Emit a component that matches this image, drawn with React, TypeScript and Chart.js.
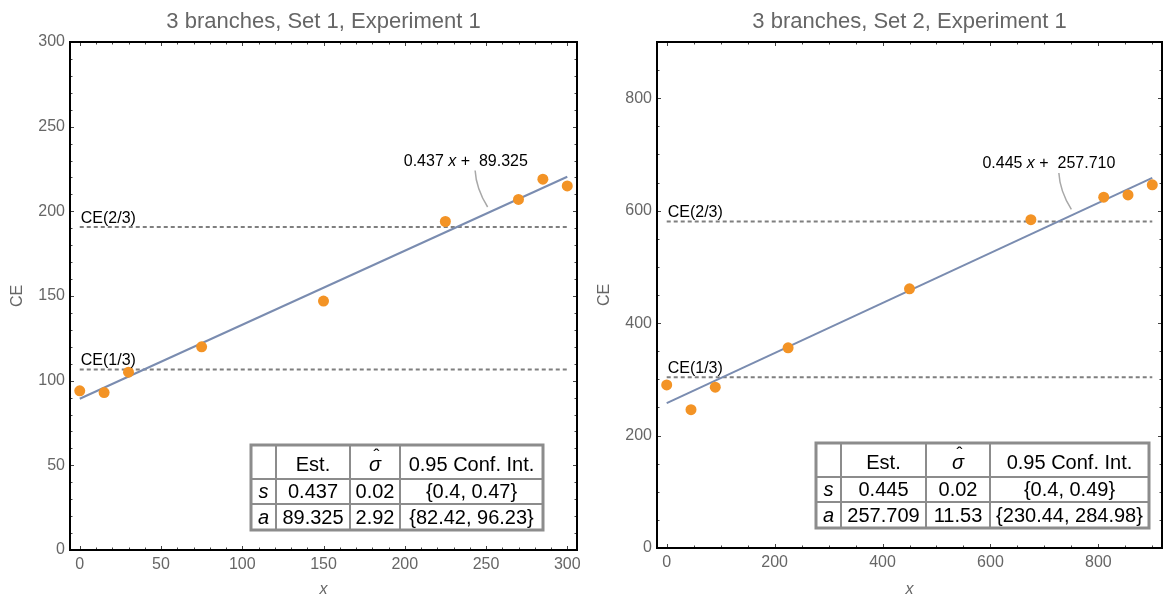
import React, { useEffect, useRef } from "react";
import { Chart, registerables } from "chart.js";

Chart.register(...registerables);

// Set 1 observations
const set1X = [0, 15, 30, 75, 150, 225, 270, 285, 300];
const set1CE = [94, 93, 105, 120, 147, 194, 207, 219, 215];

// Set 2 observations
const set2X = [0, 45, 90, 225, 450, 675, 810, 855, 900];
const set2CE = [290, 246, 286, 356, 461, 584, 624, 628, 646];

// Fitted lines: [slope, intercept]
const set1Fit = [0.437, 89.325];
const set2Fit = [0.445, 257.71];

// Certainty-equivalent reference levels: [CE(1/3), CE(2/3)]
const set1Levels = [106.6, 190.8];
const set2Levels = [303.6, 580.9];
const levelNames = ["CE(1/3)", "CE(2/3)"];

// Labelled ticks
const set1XTicks = [0, 50, 100, 150, 200, 250, 300];
const set1YTicks = [0, 50, 100, 150, 200, 250, 300];
const set2XTicks = [0, 200, 400, 600, 800];
const set2YTicks = [0, 200, 400, 600, 800];

// Parameter tables ("σ" gets a hat drawn above it)
const tableHeader = ["", "Est.", "σ", "0.95 Conf. Int."];
const set1Table = [
  ["s", "0.437", "0.02", "{0.4, 0.47}"],
  ["a", "89.325", "2.92", "{82.42, 96.23}"],
];
const set2Table = [
  ["s", "0.445", "0.02", "{0.4, 0.49}"],
  ["a", "257.709", "11.53", "{230.44, 284.98}"],
];

const titles = ["3 branches, Set 1, Experiment 1", "3 branches, Set 2, Experiment 1"];

const FONT = '"Liberation Sans", Arial, Helvetica, sans-serif';
const GRAY_TEXT = "#666666";
const POINT_COLOR = "#F39325";
const FIT_COLOR = "#7A8CB0";
const DASH_COLOR = "#7f7f7f";
const TABLE_LINE = "#8c8c8c";

interface PanelSpec {
  title: string;
  xs: number[];
  ys: number[];
  fit: number[];
  levels: number[];
  xTicks: number[];
  yTicks: number[];
  table: string[][];
  xRange: [number, number];
  yRange: [number, number];
  xMinor: number;
  yMinor: number;
  left: number;
  width: number;
  height: number;
  area: { l: number; r: number; t: number; b: number };
  calloutX: number;
  tableGap: { r: number; b: number };
  cols: number[];
  rows: number[];
  yTitleX: number;
}

const panels: PanelSpec[] = [
  {
    title: titles[0],
    xs: set1X,
    ys: set1CE,
    fit: set1Fit,
    levels: set1Levels,
    xTicks: set1XTicks,
    yTicks: set1YTicks,
    table: set1Table,
    xRange: [-6, 306],
    yRange: [0, 300],
    xMinor: 10,
    yMinor: 10,
    left: 0,
    width: 590,
    height: 598,
    area: { l: 70, r: 577, t: 42, b: 550 },
    calloutX: 251,
    tableGap: { r: 34, b: 20 },
    cols: [25, 74, 50, 143],
    rows: [34, 25, 26],
    yTitleX: 18,
  },
  {
    title: titles[1],
    xs: set2X,
    ys: set2CE,
    fit: set2Fit,
    levels: set2Levels,
    xTicks: set2XTicks,
    yTicks: set2YTicks,
    table: set2Table,
    xRange: [-18, 918],
    yRange: [0, 900],
    xMinor: 50,
    yMinor: 50,
    left: 590,
    width: 581,
    height: 598,
    area: { l: 67, r: 572, t: 42, b: 548 },
    calloutX: 750,
    tableGap: { r: 13, b: 20 },
    cols: [25, 85, 64, 159],
    rows: [34, 25, 26],
    yTitleX: 15,
  },
];

function decorPlugin(spec: PanelSpec) {
  return {
    id: "decor",
    afterDatasetsDraw(chart: any) {
      const { ctx, chartArea: a } = chart;
      const xs = chart.scales.x;
      const ys = chart.scales.y;
      const px = (v: number) => xs.getPixelForValue(v);
      const py = (v: number) => ys.getPixelForValue(v);
      ctx.save();

      // inward tick marks on all four sides of the frame
      ctx.strokeStyle = "#444";
      ctx.lineWidth = 1;
      const xStart = Math.ceil(spec.xRange[0] / spec.xMinor) * spec.xMinor;
      for (let v = xStart; v <= spec.xRange[1]; v += spec.xMinor) {
        const len = spec.xTicks.includes(v) ? 4 : 2.5;
        const p = Math.round(px(v)) + 0.5;
        ctx.beginPath();
        ctx.moveTo(p, a.bottom);
        ctx.lineTo(p, a.bottom - len);
        ctx.moveTo(p, a.top);
        ctx.lineTo(p, a.top + len);
        ctx.stroke();
      }
      const yStart = Math.ceil(spec.yRange[0] / spec.yMinor) * spec.yMinor;
      for (let v = yStart; v <= spec.yRange[1]; v += spec.yMinor) {
        const len = spec.yTicks.includes(v) ? 4 : 2.5;
        const p = Math.round(py(v)) + 0.5;
        ctx.beginPath();
        ctx.moveTo(a.left, p);
        ctx.lineTo(a.left + len, p);
        ctx.moveTo(a.right, p);
        ctx.lineTo(a.right - len, p);
        ctx.stroke();
      }

      // frame
      ctx.strokeStyle = "#000";
      ctx.lineWidth = 2;
      ctx.strokeRect(a.left, a.top, a.right - a.left, a.bottom - a.top);

      // reference level labels
      ctx.fillStyle = "#000";
      ctx.font = `16px ${FONT}`;
      ctx.textAlign = "left";
      ctx.textBaseline = "alphabetic";
      spec.levels.forEach((lv, i) => {
        ctx.fillText(levelNames[i], px(spec.xs[0]) + 1, py(lv) - 4);
      });

      // fit equation with callout
      const [slope, icpt] = spec.fit;
      const bx = px(spec.calloutX);
      const by = py(slope * spec.calloutX + icpt) - 6;
      const mx = bx - 9.5;
      const my = by - 20.5;
      const tx = bx - 12.5;
      const ty = by - 36.5;
      ctx.strokeStyle = "#a8a8a8";
      ctx.lineWidth = 1.5;
      ctx.beginPath();
      ctx.moveTo(tx, ty);
      ctx.quadraticCurveTo(mx - 2, my + 2, bx, by);
      ctx.stroke();

      const partA = `${slope.toFixed(3)} `;
      const partX = "x";
      const partB = ` +  ${icpt.toFixed(3)}`;
      const normal = `16px ${FONT}`;
      const italic = `italic 16px ${FONT}`;
      ctx.font = normal;
      const wA = ctx.measureText(partA).width;
      const wB = ctx.measureText(partB).width;
      ctx.font = italic;
      const wX = ctx.measureText(partX).width;
      const total = wA + wX + wB;
      let lx = tx - 0.575 * total;
      const ly = ty - 5;
      ctx.fillStyle = "#000";
      ctx.textBaseline = "alphabetic";
      ctx.font = normal;
      ctx.fillText(partA, lx, ly);
      lx += wA;
      ctx.font = italic;
      ctx.fillText(partX, lx, ly);
      lx += wX;
      ctx.font = normal;
      ctx.fillText(partB, lx, ly);

      // parameter table
      const tw = spec.cols.reduce((s, c) => s + c, 0);
      const th = spec.rows.reduce((s, c) => s + c, 0);
      const tRight = a.right - spec.tableGap.r;
      const tBottom = a.bottom - spec.tableGap.b;
      const tLeft = tRight - tw;
      const tTop = tBottom - th;
      ctx.fillStyle = "#fff";
      ctx.fillRect(tLeft, tTop, tw, th);
      ctx.strokeStyle = TABLE_LINE;
      ctx.lineWidth = 2;
      let cx = tLeft;
      for (let i = 0; i < spec.cols.length - 1; i++) {
        cx += spec.cols[i];
        ctx.beginPath();
        ctx.moveTo(cx, tTop);
        ctx.lineTo(cx, tBottom);
        ctx.stroke();
      }
      let ry = tTop;
      for (let i = 0; i < spec.rows.length - 1; i++) {
        ry += spec.rows[i];
        ctx.beginPath();
        ctx.moveTo(tLeft, ry);
        ctx.lineTo(tRight, ry);
        ctx.stroke();
      }
      ctx.lineWidth = 3;
      ctx.strokeRect(tLeft, tTop, tw, th);

      const rowsText = [tableHeader, ...spec.table];
      ctx.fillStyle = "#000";
      ctx.textAlign = "center";
      ctx.textBaseline = "middle";
      let rowTop = tTop;
      rowsText.forEach((row, ri) => {
        let colLeft = tLeft;
        const rh = spec.rows[ri];
        row.forEach((cell, ci) => {
          const cw = spec.cols[ci];
          const isSigma = ri === 0 && ci === 2;
          const isItalic = ci === 0 || isSigma;
          ctx.font = `${isItalic ? "italic " : ""}20px ${FONT}`;
          const cxm = colLeft + cw / 2;
          const cym = rowTop + rh / 2 + (ri === 0 ? 3 : 1);
          ctx.fillText(cell, cxm, cym);
          if (isSigma) {
            ctx.font = `18px ${FONT}`;
            ctx.fillText("\u02C6", cxm + 1.5, cym - 8);
          }
          colLeft += cw;
        });
        rowTop += rh;
      });

      // title and axis titles
      ctx.fillStyle = GRAY_TEXT;
      ctx.textAlign = "center";
      ctx.textBaseline = "middle";
      ctx.font = `22px ${FONT}`;
      ctx.fillText(spec.title, (a.left + a.right) / 2, 22);
      ctx.font = `italic 16px ${FONT}`;
      ctx.fillText("x", (a.left + a.right) / 2, 590);
      ctx.save();
      ctx.translate(spec.yTitleX, (a.top + a.bottom) / 2);
      ctx.rotate(-Math.PI / 2);
      ctx.font = `16px ${FONT}`;
      ctx.fillText("CE", 0, 0);
      ctx.restore();

      ctx.restore();
    },
  };
}

function Panel({ spec }: { spec: PanelSpec }) {
  const ref = useRef<HTMLCanvasElement | null>(null);
  useEffect(() => {
    const canvas = ref.current;
    if (!canvas) return;
    const [slope, icpt] = spec.fit;
    const x0 = spec.xs[0];
    const x1 = spec.xs[spec.xs.length - 1];
    const points = spec.xs.map((x, i) => ({ x, y: spec.ys[i] }));
    const tickStyle = {
      color: GRAY_TEXT,
      font: { family: FONT, size: 16 },
      autoSkip: false,
      maxRotation: 0,
    };
    const chart = new Chart(canvas, {
      type: "scatter",
      data: {
        datasets: [
          {
            data: points,
            pointRadius: 5.5,
            pointBackgroundColor: POINT_COLOR,
            pointBorderWidth: 0,
            showLine: false,
          },
          {
            data: [
              { x: x0, y: slope * x0 + icpt },
              { x: x1, y: slope * x1 + icpt },
            ],
            showLine: true,
            borderColor: FIT_COLOR,
            borderWidth: 2,
            pointRadius: 0,
          },
          ...spec.levels.map((lv) => ({
            data: [
              { x: x0, y: lv },
              { x: x1, y: lv },
            ],
            showLine: true,
            borderColor: DASH_COLOR,
            borderWidth: 2,
            borderDash: [4, 3],
            pointRadius: 0,
          })),
        ],
      },
      options: {
        animation: false,
        responsive: false,
        maintainAspectRatio: false,
        events: [],
        layout: {
          padding: { left: 0, top: spec.area.t, right: spec.width - spec.area.r, bottom: 0 },
        },
        plugins: {
          legend: { display: false },
          tooltip: { enabled: false },
        },
        scales: {
          x: {
            type: "linear",
            min: spec.xRange[0],
            max: spec.xRange[1],
            afterBuildTicks: (s: any) => {
              s.ticks = spec.xTicks.map((v) => ({ value: v }));
            },
            afterFit: (s: any) => {
              s.height = spec.height - spec.area.b;
            },
            grid: { display: false, drawTicks: false },
            border: { display: false },
            ticks: { ...tickStyle, padding: 5 },
          },
          y: {
            type: "linear",
            min: spec.yRange[0],
            max: spec.yRange[1],
            afterBuildTicks: (s: any) => {
              s.ticks = spec.yTicks.map((v) => ({ value: v }));
            },
            afterFit: (s: any) => {
              s.width = spec.area.l;
            },
            grid: { display: false, drawTicks: false },
            border: { display: false },
            ticks: { ...tickStyle, padding: 5 },
          },
        },
      },
      plugins: [decorPlugin(spec)],
    } as any);
    return () => chart.destroy();
  }, [spec]);
  return (
    <canvas
      ref={ref}
      width={spec.width}
      height={spec.height}
      style={{ position: "absolute", left: spec.left, top: 0, width: spec.width, height: spec.height, display: "block" }}
    />
  );
}

export default function App() {
  return (
    <div style={{ position: "absolute", left: 0, top: 0, width: 1171, height: 598, background: "#fff", overflow: "hidden" }}>
      {panels.map((p, i) => (
        <Panel key={i} spec={p} />
      ))}
    </div>
  );
}
